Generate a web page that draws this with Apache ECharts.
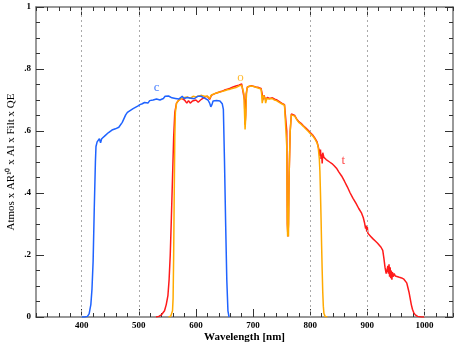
<!DOCTYPE html>
<html>
<head>
<meta charset="utf-8">
<script src="https://cdn.jsdelivr.net/npm/echarts@6/dist/echarts.min.js"></script>
<style>
  html, body { margin: 0; padding: 0; background: #fff; }
  #chart { width: 462px; height: 346px; }
</style>
</head>
<body>
<div id="chart"></div>
<script>
// wavelength [nm] vs throughput
const curveC = [
  [400, 0], [405, 0], [410, 0.002], [413, 0.01], [416, 0.04], [418, 0.09], [420, 0.18],
  [422, 0.35], [424, 0.5], [425, 0.55], [427, 0.565], [429, 0.57], [431, 0.575], [433, 0.562],
  [435, 0.575], [438, 0.58], [441, 0.585], [444, 0.59], [447, 0.595], [450, 0.6], [453, 0.603],
  [456, 0.597], [459, 0.607], [462, 0.61], [465, 0.612], [468, 0.618], [471, 0.628], [474, 0.64],
  [477, 0.652], [480, 0.66], [484, 0.665], [487, 0.668], [490, 0.672], [494, 0.676], [498, 0.68],
  [502, 0.685], [506, 0.688], [510, 0.692], [513, 0.695], [516, 0.69], [519, 0.698], [522, 0.695],
  [525, 0.7], [528, 0.697], [531, 0.703], [534, 0.697], [537, 0.7], [540, 0.694], [543, 0.705],
  [546, 0.712], [549, 0.716], [552, 0.713], [555, 0.71], [558, 0.707], [561, 0.712], [564, 0.705],
  [567, 0.71], [570, 0.703], [573, 0.708], [576, 0.712], [579, 0.705], [582, 0.71], [585, 0.708],
  [588, 0.712], [591, 0.706], [594, 0.71], [597, 0.704], [600, 0.708], [603, 0.712], [606, 0.707],
  [609, 0.712], [612, 0.71], [615, 0.706], [618, 0.703], [621, 0.7], [624, 0.69], [626, 0.678],
  [628, 0.685], [630, 0.697], [633, 0.693], [636, 0.698], [639, 0.7], [642, 0.697], [644, 0.695],
  [646, 0.688], [648, 0.67], [650, 0.5], [652, 0.3], [654, 0.12], [656, 0.02], [658, 0]
];
const curveT = [
  [530, 0], [535, 0.002], [540, 0.008], [545, 0.02], [548, 0.04], [551, 0.07], [553, 0.12],
  [555, 0.2], [557, 0.32], [559, 0.45], [561, 0.58], [563, 0.66], [566, 0.69], [570, 0.7],
  [575, 0.705], [580, 0.7], [584, 0.69], [587, 0.698], [590, 0.69], [594, 0.697], [597, 0.692],
  [600, 0.7], [604, 0.693], [608, 0.7], [612, 0.705], [616, 0.71], [620, 0.712], [624, 0.702],
  [627, 0.715], [630, 0.72], [635, 0.722], [640, 0.725], [645, 0.728], [650, 0.732], [655, 0.735],
  [660, 0.738], [665, 0.742], [670, 0.745], [675, 0.748], [680, 0.752], [683, 0.75], [685, 0.7],
  [686, 0.62], [687, 0.65], [688, 0.72], [690, 0.742], [693, 0.748], [697, 0.746], [700, 0.745],
  [705, 0.742], [710, 0.74], [714, 0.737], [716, 0.72], [717, 0.7], [719, 0.715], [720, 0.72],
  [722, 0.7], [725, 0.708], [729, 0.705], [734, 0.707], [738, 0.703], [742, 0.7], [746, 0.695],
  [750, 0.69], [755, 0.685], [758, 0.68], [759, 0.6], [760, 0.3], [761, 0.26], [762, 0.3],
  [763, 0.45], [765, 0.6], [767, 0.655], [770, 0.66], [773, 0.65], [776, 0.64], [780, 0.63],
  [784, 0.625], [788, 0.617], [792, 0.61], [796, 0.603], [800, 0.595], [804, 0.588], [808, 0.578],
  [812, 0.565], [814, 0.55], [816, 0.535], [817, 0.52], [818, 0.54], [819, 0.51], [820, 0.525],
  [821, 0.495], [822, 0.53], [824, 0.515], [826, 0.52], [828, 0.508], [830, 0.51], [834, 0.5],
  [838, 0.495], [842, 0.488], [846, 0.48], [850, 0.468], [855, 0.455], [860, 0.438], [865, 0.42],
  [870, 0.4], [875, 0.383], [880, 0.367], [885, 0.35], [890, 0.335], [893, 0.32], [895, 0.305],
  [897, 0.285], [898, 0.295], [899, 0.275], [900, 0.29], [901, 0.27], [903, 0.268], [906, 0.26],
  [910, 0.252], [914, 0.245], [918, 0.238], [921, 0.232], [924, 0.225], [927, 0.215], [929, 0.19],
  [931, 0.16], [933, 0.14], [935, 0.135], [936, 0.165], [937, 0.14], [938, 0.17], [939, 0.13],
  [940, 0.16], [941, 0.125], [942, 0.15], [943, 0.12], [944, 0.145], [945, 0.13], [947, 0.14],
  [949, 0.132], [952, 0.13], [956, 0.128], [960, 0.126], [964, 0.122], [967, 0.118], [969, 0.11],
  [971, 0.095], [973, 0.08], [975, 0.06], [977, 0.04], [979, 0.025], [981, 0.015], [984, 0.007],
  [988, 0.002], [995, 0], [1000, 0]
];
const curveO = [
  [552, 0], [556, 0.003], [559, 0.02], [560, 0.06], [561, 0.2], [562, 0.4], [563, 0.58],
  [564, 0.66], [566, 0.69], [570, 0.7], [575, 0.705], [580, 0.708], [585, 0.71], [590, 0.705],
  [595, 0.712], [600, 0.71], [605, 0.713], [610, 0.715], [615, 0.712], [620, 0.712], [624, 0.705],
  [627, 0.716], [630, 0.72], [635, 0.722], [640, 0.725], [645, 0.727], [650, 0.73], [655, 0.733],
  [660, 0.735], [665, 0.738], [670, 0.74], [675, 0.745], [680, 0.748], [683, 0.745], [684, 0.72],
  [685, 0.66], [686, 0.605], [687, 0.64], [688, 0.7], [689, 0.735], [691, 0.743], [695, 0.745],
  [700, 0.744], [705, 0.741], [710, 0.738], [714, 0.735], [715, 0.72], [716, 0.69], [717, 0.7],
  [718, 0.715], [720, 0.72], [721, 0.705], [722, 0.69], [724, 0.705], [728, 0.703], [733, 0.705],
  [737, 0.7], [741, 0.698], [745, 0.693], [750, 0.688], [755, 0.683], [758, 0.678], [759, 0.55],
  [760, 0.3], [760.5, 0.26], [761, 0.35], [762, 0.26], [763, 0.45], [765, 0.6], [767, 0.652],
  [770, 0.657], [773, 0.648], [776, 0.638], [780, 0.628], [784, 0.622], [788, 0.615], [792, 0.607],
  [796, 0.6], [800, 0.592], [804, 0.585], [808, 0.575], [812, 0.562], [814, 0.548], [816, 0.51],
  [817, 0.47], [818, 0.4], [819, 0.32], [820, 0.23], [821, 0.15], [822, 0.08], [823, 0.035],
  [824, 0.012], [826, 0.002], [830, 0]
];

const xMajor = [400, 500, 600, 700, 800, 900, 1000];
const gridLinesAt = [400, 500, 800, 900, 1000];
const curveLabels = [
  { text: 'c', x: 531, y: 0.739 },
  { text: 'o', x: 678, y: 0.771 },
  { text: 't', x: 858, y: 0.506 }
];
const yTitle = 'Atmos x AR¹⁰ x Al x Filt x QE';
const xTitle = 'Wavelength [nm]';

const BLUE = '#1f63ff';
const ORANGE = '#ffaa00';
const RED = '#ff1a1a';
const FRAME = '#777';
const FONT = 'Liberation Serif';

const chart = echarts.init(document.getElementById('chart'));

function xAxisBase(pos) {
  return {
    type: 'value', position: pos, min: 320, max: 1050, interval: 20,
    axisLine: { show: true, lineStyle: { color: FRAME, width: 1.5 } },
    axisTick: { show: true, inside: true, length: 4, lineStyle: { color: '#333', width: 1 } },
    axisLabel: { show: false },
    splitLine: { show: false }
  };
}
function xAxisMajor(pos) {
  return {
    type: 'value', position: pos, min: 320, max: 1050,
    axisLine: { show: false },
    axisTick: { show: true, inside: true, length: 8, customValues: xMajor, lineStyle: { color: '#333', width: 1 } },
    axisLabel: { show: false },
    splitLine: { show: false }
  };
}
function yAxisBase(pos, labels) {
  return {
    type: 'value', position: pos, min: 0, max: 1, interval: 0.2,
    axisLine: { show: true, lineStyle: { color: FRAME, width: 1.5 } },
    axisTick: { show: true, inside: true, length: 8, lineStyle: { color: '#333', width: 1 } },
    minorTick: { show: true, splitNumber: 4, length: 4, lineStyle: { color: '#333', width: 1 } },
    axisLabel: {
      show: labels, margin: 5, color: '#000', fontFamily: FONT, fontSize: 9, fontWeight: 'bold',
      formatter: v => v === 0 ? '0' : (v >= 1 ? '1' : v.toFixed(1).replace(/^0/, ''))
    },
    splitLine: { show: false }
  };
}

const bottom = xAxisBase('bottom');
bottom.axisLabel = {
  show: true, customValues: xMajor, margin: 4, color: '#000',
  fontFamily: FONT, fontSize: 9, fontWeight: 'bold',
  formatter: v => String(v)
};
bottom.name = xTitle;
bottom.nameLocation = 'middle';
bottom.nameGap = 15;
bottom.nameMoveOverlap = false;
bottom.nameTextStyle = { color: '#000', fontFamily: FONT, fontSize: 11, fontWeight: 'bold' };

const left = yAxisBase('left', true);
left.name = yTitle;
left.nameLocation = 'middle';
left.nameGap = 19;
left.nameMoveOverlap = false;
left.nameTextStyle = { color: '#000', fontFamily: FONT, fontSize: 11 };

function line(name, data, color, z) {
  return {
    name, type: 'line', data, showSymbol: false, symbol: 'none', z,
    lineStyle: { color, width: 1.5 }, animation: false
  };
}

const option = {
  animation: false,
  grid: { left: 36, right: 9, top: 7, bottom: 29, containLabel: false, outerBoundsMode: 'none' },
  xAxis: [bottom, xAxisMajor('bottom'), xAxisBase('top'), xAxisMajor('top')],
  yAxis: [left, yAxisBase('right', false)],
  series: [
    {
      type: 'line', data: [], z: 1, silent: true,
      markLine: {
        silent: true, symbol: 'none', label: { show: false }, animation: false,
        lineStyle: { color: '#aaa', type: [2, 3], width: 1 },
        data: gridLinesAt.map(v => ({ xAxis: v }))
      }
    },
    line('t', curveT, RED, 3),
    line('o', curveO, ORANGE, 4),
    line('c', curveC, BLUE, 5),
    {
      type: 'scatter', symbolSize: 0, z: 6, silent: true,
      data: curveLabels.map((d, i) => ({
        value: [d.x, d.y],
        label: {
          show: true, position: 'inside', formatter: d.text,
          color: [BLUE, ORANGE, RED][i], fontFamily: FONT, fontSize: 13
        }
      }))
    }
  ]
};

chart.setOption(option);
</script>
</body>
</html>
